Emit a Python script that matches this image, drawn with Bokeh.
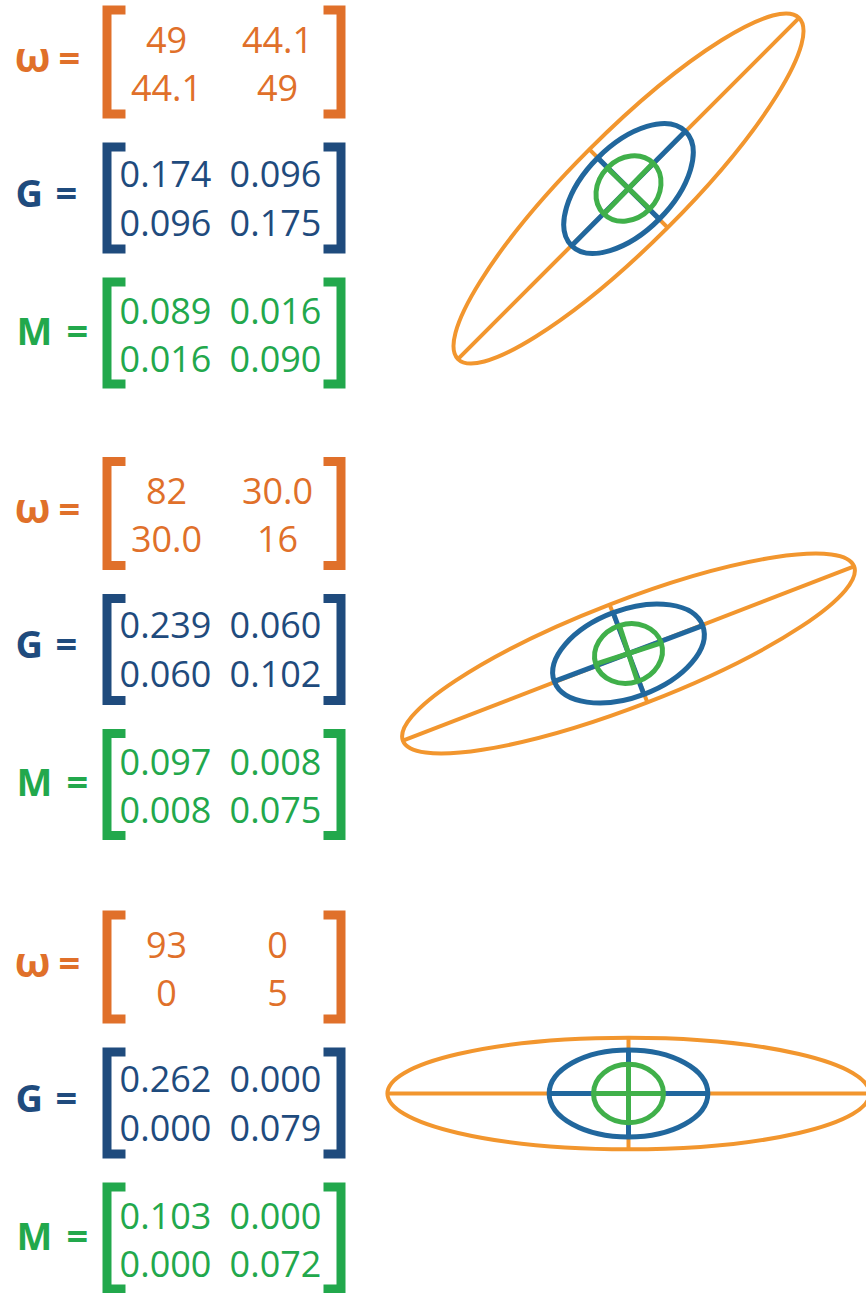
import numpy as np
from bokeh.plotting import figure
from bokeh.models import Range1d
from bokeh.core.properties import value
from bokeh.embed import file_html
from bokeh.resources import INLINE

# ---------------- data ----------------
omega_1 = [[49, 44.1], [44.1, 49]]
G_1 = [[0.174, 0.096], [0.096, 0.175]]
M_1 = [[0.089, 0.016], [0.016, 0.090]]

omega_2 = [[82, 30.0], [30.0, 16]]
G_2 = [[0.239, 0.060], [0.060, 0.102]]
M_2 = [[0.097, 0.008], [0.008, 0.075]]

omega_3 = [[93, 0], [0, 5]]
G_3 = [[0.262, 0.000], [0.000, 0.079]]
M_3 = [[0.103, 0.000], [0.000, 0.072]]

omega_text_1 = ["49", "44.1", "44.1", "49"]
omega_text_2 = ["82", "30.0", "30.0", "16"]
omega_text_3 = ["93", "0", "0", "5"]

panels = [
    (omega_1, G_1, M_1, omega_text_1),
    (omega_2, G_2, M_2, omega_text_2),
    (omega_3, G_3, M_3, omega_text_3),
]

# ---------------- style / layout ----------------
W, H = 866, 1293
ORANGE_TXT = "#E0702A"
BLUE_TXT = "#1F4B7D"
GREEN_TXT = "#22A84C"
ORANGE_EL = "#F2962E"
BLUE_EL = "#21679D"
GREEN_EL = "#40B04A"
FONT = value("Open Sans")
BASE_SHIFT = 0.41  # em correction for rendered baseline

PANEL_DY = [0, 451.5, 905]
ELL_CENTER_Y = [188, 653, 1093]
ELL_CENTER_X = 628
SCALE = {"omega": 25.0, "G": 155.0, "M": 109.0}


def X(x):
    return x


def Y(y):
    return H - y


p = figure(width=W, height=H, output_backend="svg", toolbar_location=None,
           x_range=Range1d(0, W), y_range=Range1d(0, H), min_border=0)
p.axis.visible = False
p.grid.visible = False
p.outline_line_color = None
p.background_fill_color = "white"
p.border_fill_color = "white"


def bracket(top, bottom, color):
    lw = 9
    xl = 102 + lw / 2
    p.line([X(125), X(xl), X(xl), X(125)],
           [Y(top + lw / 2), Y(top + lw / 2), Y(bottom - lw / 2), Y(bottom - lw / 2)],
           line_color=color, line_width=lw, line_join="miter", line_cap="butt")
    xr = 345 - lw / 2
    p.line([X(323), X(xr), X(xr), X(323)],
           [Y(top + lw / 2), Y(top + lw / 2), Y(bottom - lw / 2), Y(bottom - lw / 2)],
           line_color=color, line_width=lw, line_join="miter", line_cap="butt")


def cells(texts, rows, cols, color, size=36):
    xs, ys = [], []
    for r in rows:
        for c in cols:
            xs.append(X(c))
            ys.append(Y(r - BASE_SHIFT * size))
    p.text(x=xs, y=ys, text=texts, text_color=color, text_font=FONT,
           text_font_size="%dpx" % size, text_align="center", text_baseline="alphabetic")


def label(sym, sx, eqx, base, color, size):
    p.text(x=[X(sx)], y=[Y(base - BASE_SHIFT * size)], text=[sym], text_color=color,
           text_font=FONT, text_font_size="%dpx" % size, text_font_style="bold",
           text_align="left", text_baseline="alphabetic")
    p.text(x=[X(eqx)], y=[Y(base - BASE_SHIFT * 38)], text=["="], text_color=color,
           text_font=FONT, text_font_size="38px", text_font_style="bold",
           text_align="left", text_baseline="alphabetic")


def fmt3(m):
    return ["%.3f" % m[0][0], "%.3f" % m[0][1], "%.3f" % m[1][0], "%.3f" % m[1][1]]


def ellipse_with_axes(mat, scale, cx, cy, color, lw):
    vals, vecs = np.linalg.eigh(np.array(mat, dtype=float))
    order = np.argsort(vals)[::-1]
    vals, vecs = vals[order], vecs[:, order]
    a, b = scale * np.sqrt(vals)
    v1, v2 = vecs[:, 0], vecs[:, 1]
    ang = np.arctan2(v1[1], v1[0])
    p.ellipse(x=[cx], y=[cy], width=[2 * a], height=[2 * b], angle=[ang],
              fill_color=None, line_color=color, line_width=lw)
    p.segment(x0=[cx - a * v1[0], cx - b * v2[0]], y0=[cy - a * v1[1], cy - b * v2[1]],
              x1=[cx + a * v1[0], cx + b * v2[0]], y1=[cy + a * v1[1], cy + b * v2[1]],
              line_color=color, line_width=lw)


for k, (om, G, M, omt) in enumerate(panels):
    d = PANEL_DY[k]
    # omega matrix
    label("ω", 14, 58, 72 + d, ORANGE_TXT, 42)
    bracket(5 + d, 118 + d, ORANGE_TXT)
    cells(omt, [54 + d, 102 + d], [166, 277], ORANGE_TXT)
    # G matrix
    label("G", 15, 55, 207 + d, BLUE_TXT, 38)
    bracket(142 + d, 253 + d, BLUE_TXT)
    cells(fmt3(G), [188 + d, 237 + d], [165, 275], BLUE_TXT)
    # M matrix
    label("M", 16, 66, 345 + d, GREEN_TXT, 38)
    bracket(277 + d, 388 + d, GREEN_TXT)
    cells(fmt3(M), [325 + d, 373 + d], [165, 275], GREEN_TXT)

    cx, cy = X(ELL_CENTER_X), Y(ELL_CENTER_Y[k])
    ellipse_with_axes(om, SCALE["omega"], cx, cy, ORANGE_EL, 4)
    ellipse_with_axes(G, SCALE["G"], cx, cy, BLUE_EL, 5)
    ellipse_with_axes(M, SCALE["M"], cx, cy, GREEN_EL, 5)

open("out.html", "w").write(file_html(p, INLINE))
